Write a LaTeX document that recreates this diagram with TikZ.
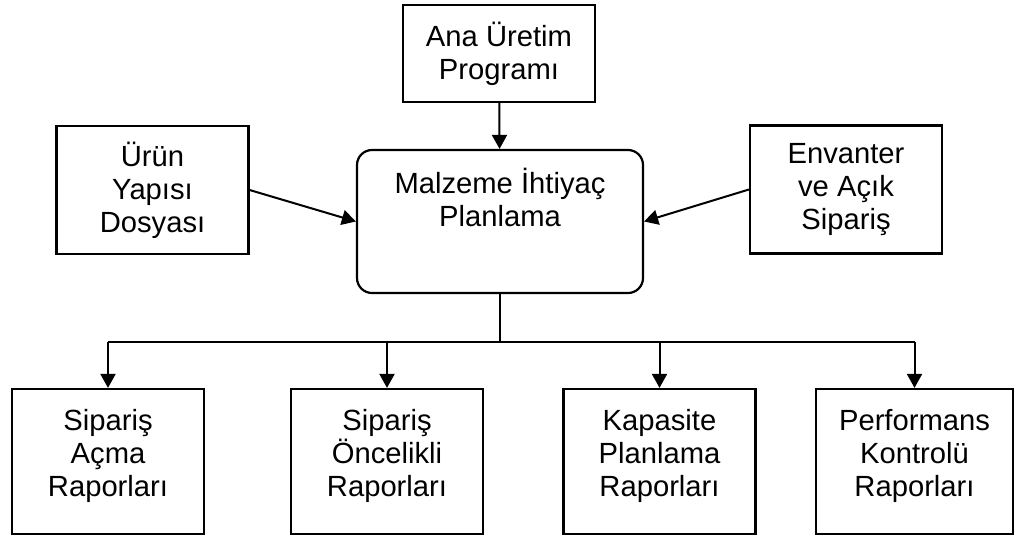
\documentclass[tikz,border=0pt]{standalone}
\usepackage{fontspec}
\setmainfont{Liberation Sans}
\usepackage{tikz}
\usetikzlibrary{arrows.meta,positioning}
\tikzset{
  box/.style={draw, line width=1.1pt, align=center, inner sep=0pt,
              minimum width=96pt, font=\fontsize{14.6}{16.5}\selectfont},
  core/.style={box, rounded corners=7.5pt, minimum width=143pt,
               minimum height=71.5pt, text depth=24pt},
  report/.style={box, minimum height=72.5pt, text depth=9pt},
  flow/.style={-{Triangle[length=7pt,width=7.5pt]}, line width=1pt},
  link/.style={line width=1pt},
}

\begin{document}
\begin{tikzpicture}[x=0.5pt, y=-0.5pt]
  \useasboundingbox (0,0) rectangle (1015,536);
  \node[box, minimum height=48.5pt] (prog) at (499,53.5) {Ana Üretim\\ Programı};
  \node[core] (mip) at (500,221.5) {Malzeme İhtiyaç\\ Planlama};
  \node[box, minimum height=64pt] (urun) at (152.5,190) {Ürün\\ Yapısı\\ Dosyası};
  \node[box, minimum height=64pt] (env) at (846,189.5) {Envanter\\ ve Açık\\ Sipariş};
  \node[report] (rap1) at (108,461.5) {Sipariş\\ Açma\\ Raporları};
  \node[report] (rap2) at (387,461.5) {Sipariş\\ Öncelikli\\ Raporları};
  \node[report] (rap3) at (659.5,461.5) {Kapasite\\ Planlama\\ Raporları};
  \node[report, minimum width=98.5pt] (rap4) at (914.5,461.5) {Performans\\ Kontrolü\\ Raporları};
  \coordinate (bus) at (500,342);
  \draw[flow] (prog) -- (mip);
  \draw[flow] (urun.east) -- (mip.west);
  \draw[flow] (env.west) -- (mip.east);
  \draw[link] (mip.south) -- (bus);
  \draw[link] (bus -| rap1.north) -- (bus -| rap4.north);
  \foreach \r in {rap1,rap2,rap3,rap4}
    \draw[flow] (bus -| \r.north) -- (\r.north);
\end{tikzpicture}
\end{document}
